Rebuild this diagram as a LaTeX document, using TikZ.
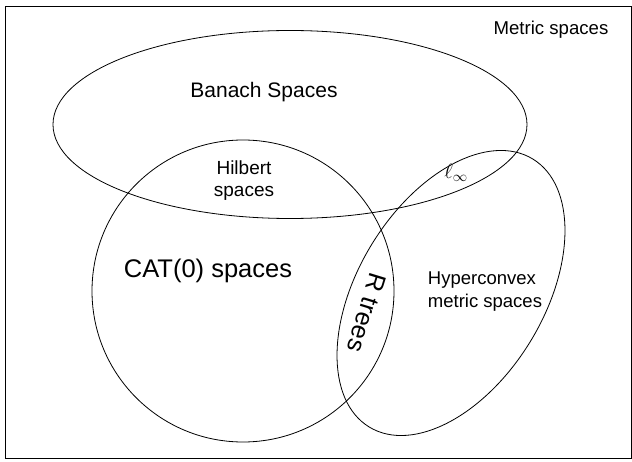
\documentclass[tikz,border=0pt]{standalone}
\usepackage{amsmath,amssymb}
\usepackage{fontspec}
\setmainfont{Liberation Sans}
\usepackage{tikz}

\tikzset{
  setline/.style={line width=0.8pt},
  setname/.style 2 args={inner sep=0pt, font=\fontsize{#1}{#2}\selectfont}
}

\begin{document}
\begin{tikzpicture}[x=1pt,y=1pt]
        \useasboundingbox (0,0) rectangle (632,461);
        \draw[setline] (5,3) rectangle (631,455);

        % the sets
        \draw[setline] (290,336.5) ellipse [x radius=237, y radius=94];
        \draw[setline] (243,170) circle [radius=151];
        \draw[setline, rotate around={58.6:(451,168)}] (451,168) ellipse [x radius=157, y radius=93];

        % their names
        \node[setname={18.6}{22}] (metric) at (551,431) {Metric spaces};
        \node[setname={21}{25}] (banach) at (264,369) {Banach Spaces};
        \node[setname={19}{22}, align=center] (hilbert) at (244,280) {Hilbert\\spaces};
        \node[setname={25.5}{30}] (cat) at (208,190) {CAT(0) spaces};
        \node[setname={18.5}{23}, align=left] (hyper) at (485,169) {Hyperconvex\\metric spaces};
        \node[setname={25}{29}, rotate=-107] (rtrees) at (367,148) {R trees};
        \node[setname={21}{25}] (linf) at (456,288) {$\ell_\infty$};

\end{tikzpicture}
\end{document}
